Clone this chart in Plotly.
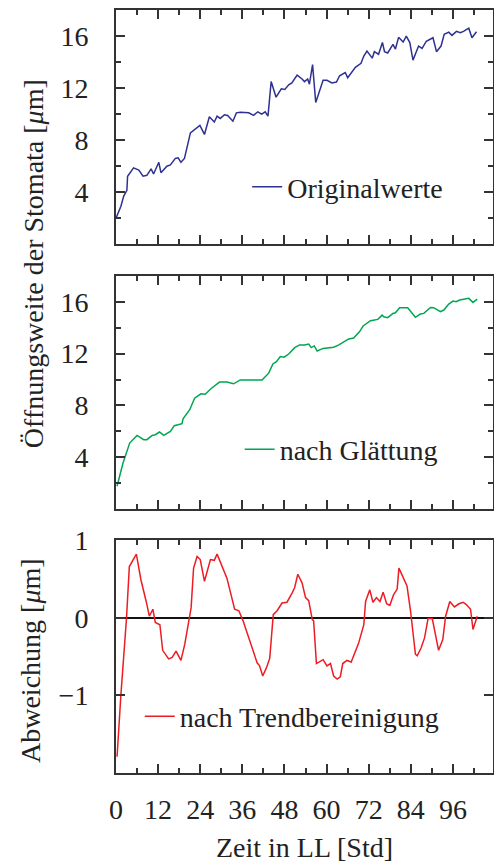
import plotly.graph_objects as go
from plotly.subplots import make_subplots

# ---- data ----
t_orig = [0, 1.4, 2.2, 3.1, 3.3, 5.0, 6.5, 7.7, 8.8, 10.0, 10.7, 12.2, 12.8, 14.5, 15.5, 16.9, 17.7, 18.5, 19.5,
          21.2, 23.9, 25.2, 26.6, 28.0, 28.8, 29.7, 30.9, 31.8, 33.3, 34.3, 35.4, 37.8, 39.2, 40.4, 41.5, 42.5, 43.3,
          44.2, 45.6, 47.1, 48.1, 49.2, 50.1, 51.6, 53.0, 53.7, 54.6, 55.1, 56.0, 56.9, 59.0, 60.1, 61.5, 62.8, 63.7,
          65.3, 66.0, 68.2, 69.8, 70.6, 71.5, 73.0, 73.6, 74.8, 75.9, 76.5, 77.4, 78.9, 79.6, 80.5, 81.8, 82.7, 83.7,
          84.6, 86.2, 87.2, 88.4, 90.3, 91.3, 92.6, 93.5, 94.8, 95.7, 97.0, 98.1, 99.0, 100.5, 101.4, 102.7]
v_orig = [2.0, 2.92, 3.7, 4.15, 5.23, 5.87, 5.7, 5.23, 5.3, 5.8, 5.4, 6.3, 5.5, 6.0, 6.1, 6.6, 6.65, 6.3, 6.6,
          8.56, 9.13, 8.44, 9.8, 9.4, 9.85, 9.67, 9.95, 9.9, 9.46, 10.1, 10.15, 10.1, 9.9, 10.18, 10.0, 10.18, 9.85,
          12.5, 11.3, 11.95, 11.9, 12.25, 12.4, 13.0, 12.7, 12.5, 12.7, 12.3, 13.8, 10.9, 12.6, 12.6, 12.4, 12.47, 12.95,
          13.2, 12.8, 13.6, 13.9, 14.46, 14.85, 14.3, 14.8, 14.6, 15.5, 14.8, 14.7, 15.36, 15.0, 15.9, 15.54, 16.0, 15.5,
          14.15, 15.23, 15.05, 15.6, 15.87, 14.8, 15.23, 16.13, 16.3, 16.05, 16.36, 16.26, 16.36, 16.6, 15.87, 16.33]

t_smooth = [0.3, 2.0, 3.9, 6.0, 7.9, 8.8, 10.3, 11.2, 12.4, 13.6, 15.5, 16.6, 18.8, 19.1, 21.0, 22.4, 24.2, 25.4,
            27.2, 29.5, 31.6, 33.5, 35.4, 41.6, 43.5, 44.7, 45.7, 46.8, 47.9, 49.2, 50.9, 52.3, 53.7, 54.9, 55.6,
            56.5, 57.3, 59.0, 62.0, 63.5, 66.3, 67.7, 69.4, 70.4, 72.5, 74.6, 75.8, 76.3, 77.4, 78.9, 79.6, 80.8,
            83.1, 84.3, 85.3, 86.7, 87.7, 89.6, 90.5, 92.4, 93.4, 94.8, 96.0, 96.9, 97.9, 100.5, 101.7, 102.9]
v_smooth = [1.77, 3.56, 5.1, 5.69, 5.36, 5.36, 5.69, 5.74, 5.95, 5.69, 6.0, 6.44, 6.59, 6.97, 7.67, 8.56, 8.9, 8.87,
            9.33, 9.8, 9.8, 9.67, 9.97, 9.97, 10.49, 11.2, 11.38, 11.77, 11.72, 11.97, 12.46, 12.67, 12.67, 12.74, 12.46,
            12.59, 12.2, 12.4, 12.49, 12.67, 13.13, 13.2, 13.7, 14.13, 14.54, 14.64, 14.97, 14.84, 14.77, 15.1, 15.15, 15.54,
            15.54, 15.1, 14.8, 15.05, 15.1, 15.56, 15.54, 15.23, 15.36, 15.82, 16.05, 16.0, 16.13, 16.26, 15.95, 16.2]

t_detr = [0.3, 1.4, 3.0, 3.8, 5.8, 7.1, 8.6, 9.5, 10.5, 11.2, 12.5, 13.3, 15.0, 16.0, 17.1, 18.5, 19.6, 20.5, 21.4,
          22.1, 23.1, 24.0, 25.2, 26.9, 28.0, 28.8, 29.9, 31.6, 33.8, 35.0, 36.2, 39.0, 40.2, 40.9, 41.8, 42.9, 43.8,
          44.8, 45.9, 47.3, 48.7, 50.2, 50.9, 51.8, 53.0, 54.0, 54.9, 55.9, 56.3, 57.1, 59.0, 60.1, 61.1, 62.0, 63.0,
          63.9, 64.6, 65.8, 67.0, 69.1, 70.6, 71.1, 72.3, 73.2, 74.2, 75.2, 76.1, 77.1, 78.0, 79.1, 80.1, 80.6, 82.9,
          83.9, 85.3, 85.8, 86.9, 87.9, 88.9, 90.1, 91.9, 93.1, 93.9, 95.1, 96.4, 97.7, 98.9, 99.8, 101.0, 101.7, 102.9]
v_detr = [-1.79, -0.99, 0.0, 0.66, 0.82, 0.49, 0.21, 0.02, 0.11, -0.06, -0.09, -0.42, -0.53, -0.51, -0.43, -0.55,
          -0.34, -0.13, 0.13, 0.64, 0.79, 0.75, 0.47, 0.75, 0.74, 0.82, 0.70, 0.51, 0.11, 0.09, -0.04, -0.41, -0.58,
          -0.62, -0.75, -0.64, -0.52, 0.04, 0.09, 0.19, 0.20, 0.32, 0.39, 0.56, 0.45, 0.26, 0.22, -0.02, -0.04, -0.59,
          -0.54, -0.62, -0.59, -0.75, -0.79, -0.76, -0.59, -0.55, -0.57, -0.33, -0.09, 0.21, 0.36, 0.20, 0.26, 0.21,
          0.33, 0.18, 0.16, 0.30, 0.37, 0.64, 0.41, 0.09, -0.47, -0.49, -0.39, -0.26, -0.01, -0.01, -0.42, -0.28, 0.02,
          0.21, 0.14, 0.18, 0.20, 0.17, 0.11, -0.15, 0.02]

x_major = 12
x_minor = 6
y_ticks = [4, 8, 12, 16]
y_minor = 2
d_ticks = [-1, 0, 1]
d_ticklabels = ["\u22121", "0", "1"]

names = ["Originalwerte", "nach Glättung", "nach Trendbereinigung"]
colors = ["#2E3192", "#00A651", "#ED1C24"]

FONT = "Liberation Serif"
TXT = "#222222"
FS = 28

fig = make_subplots(rows=3, cols=1, shared_xaxes=True, vertical_spacing=0.04)

fig.add_trace(go.Scatter(x=t_orig, y=v_orig, mode="lines", name=names[0],
                         line=dict(color=colors[0], width=1.5), legend="legend"), row=1, col=1)
fig.add_trace(go.Scatter(x=t_smooth, y=v_smooth, mode="lines", name=names[1],
                         line=dict(color=colors[1], width=1.5), legend="legend2"), row=2, col=1)
fig.add_trace(go.Scatter(x=t_detr, y=v_detr, mode="lines", name=names[2],
                         line=dict(color=colors[2], width=1.5), legend="legend3"), row=3, col=1)

axis_common = dict(showline=True, mirror="allticks", linecolor="#333333", linewidth=2,
                   ticks="inside", tickcolor="#333333", tickwidth=1.5, ticklen=9, showgrid=False,
                   automargin=False, tickfont=dict(family=FONT, size=FS, color=TXT))
minor_common = dict(ticks="inside", ticklen=5, tickcolor="#333333", tickwidth=1.5, showgrid=False)

for r in (1, 2, 3):
    fig.update_xaxes(range=[0, 107.4], tick0=0, dtick=x_major,
                     minor=dict(tick0=0, dtick=x_minor, **minor_common),
                     zeroline=False, row=r, col=1, **axis_common)
fig.update_xaxes(showticklabels=False, row=1, col=1)
fig.update_xaxes(showticklabels=False, row=2, col=1)
fig.update_xaxes(showticklabels=True, ticklabelstandoff=10, row=3, col=1,
                 title=dict(text="Zeit in LL [Std]", font=dict(family=FONT, size=FS, color=TXT), standoff=17))

for r in (1, 2):
    fig.update_yaxes(range=[0, 18], tickvals=y_ticks,
                     minor=dict(tick0=0, dtick=y_minor, **minor_common),
                     zeroline=False, ticklabelstandoff=20, row=r, col=1, **axis_common)
fig.update_yaxes(range=[-2, 1], tickvals=d_ticks, ticktext=d_ticklabels,
                 zeroline=True, zerolinecolor="#111111", zerolinewidth=1.5,
                 ticklabelstandoff=20, row=3, col=1, **axis_common)

fig.update_layout(
    yaxis=dict(domain=[0.6929, 1.0]),
    yaxis2=dict(domain=[0.3458, 0.6516]),
    yaxis3=dict(domain=[0.0, 0.3052]),
)

leg = dict(bgcolor="rgba(0,0,0,0)", borderwidth=0, xanchor="left", yanchor="middle",
           font=dict(family=FONT, size=FS, color=TXT))
fig.update_layout(
    legend=dict(x=0.348, y=0.768, **leg),
    legend2=dict(x=0.328, y=0.424, **leg),
    legend3=dict(x=0.063, y=0.074, **leg),
)

fig.add_annotation(text="Öffnungsweite der Stomata [<i>μ</i>m]", textangle=-90,
                   xref="paper", yref="paper", x=-0.22, y=0.667, xanchor="center", yanchor="middle",
                   showarrow=False, font=dict(family=FONT, size=FS, color=TXT))
fig.add_annotation(text="Abweichung [<i>μ</i>m]", textangle=-90,
                   xref="paper", yref="paper", x=-0.225, y=0.147, xanchor="center", yanchor="middle",
                   showarrow=False, font=dict(family=FONT, size=FS, color=TXT))

fig.update_layout(width=494, height=863, margin=dict(l=116, r=1, t=10, b=89.5, autoexpand=False),
                  plot_bgcolor="white", paper_bgcolor="white", showlegend=True)

fig.write_html("out.html", config={"displayModeBar": False},
               post_script="document.body.style.margin='0';document.body.style.overflow='hidden';")
